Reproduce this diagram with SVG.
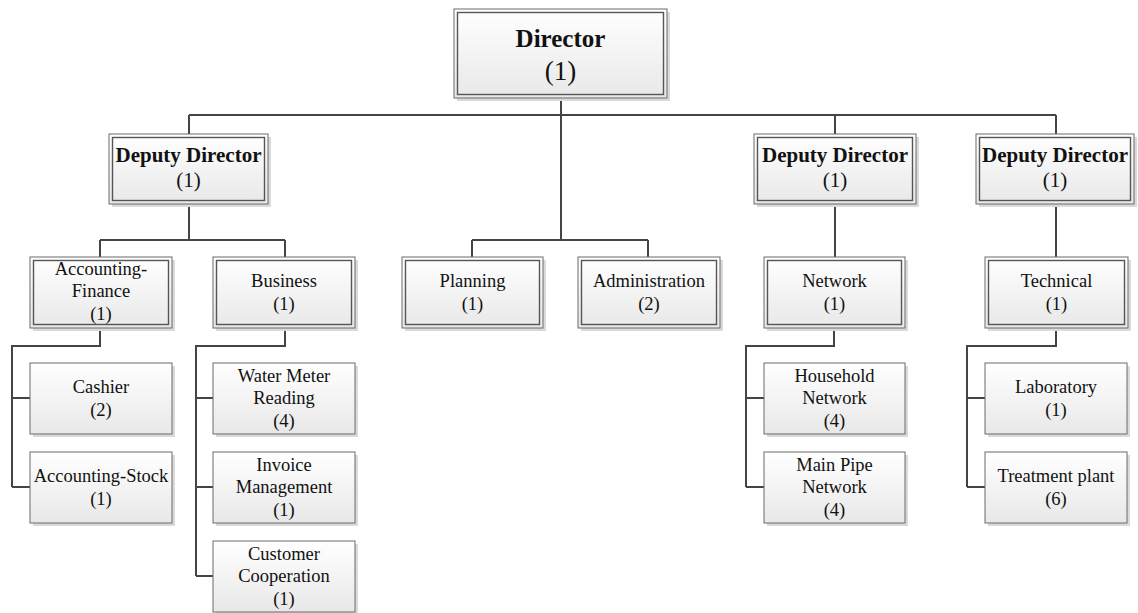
<svg xmlns="http://www.w3.org/2000/svg" width="1138" height="613" viewBox="0 0 1138 613">
<defs>
<linearGradient id="g" x1="0" y1="0" x2="0" y2="1">
<stop offset="0" stop-color="#ffffff"/>
<stop offset="1" stop-color="#e8e8e8"/>
</linearGradient>
<style>
.sh{fill:#dadada}
.bx{fill:url(#g);stroke:#6a6a6a;stroke-width:1}
.in{fill:none;stroke:#555;stroke-width:1.4}
.t{font-family:"Liberation Serif","Times New Roman",serif;font-size:18.5px;fill:#111;text-anchor:middle}
.b{font-weight:bold;font-size:21px}
.d{font-weight:bold;font-size:25px}
.dn{font-size:27px}
.n21{font-size:21px}
.c{fill:none;stroke:#444;stroke-width:2}
</style>
</defs>
<rect width="1138" height="613" fill="#fff"/>
<g id="connectors">
<path class="c" d="M561,98V240M189,115H1056M189,115V134M835,115V134M1056,115V134"/>
<path class="c" d="M189,204V240M100,240H285M100,240V257M285,240V257"/>
<path class="c" d="M472,240H648M472,240V257M648,240V257"/>
<path class="c" d="M835,204V257M1056,204V257"/>
<path class="c" d="M100,328V346H12V487M12,398H30M12,487H30"/>
<path class="c" d="M285,328V346H196V576M196,398H213M196,487H213M196,576H213"/>
<path class="c" d="M834,328V346H746V487M746,398H764M746,487H764"/>
<path class="c" d="M1056,328V346H967V487M967,398H985M967,487H985"/>
</g>
<g id="director">
<rect class="sh" x="457" y="12" width="213" height="89"/>
<rect class="bx" x="454" y="9" width="213" height="89"/>
<rect class="in" x="457.5" y="12.5" width="206" height="82"/>
<text class="t d" x="560.5" y="47">Director</text>
<text class="t dn" x="560.5" y="80">(1)</text>
</g>
<g id="deputy-1">
<rect class="sh" x="112" y="137" width="159" height="70"/>
<rect class="bx" x="109" y="134" width="159" height="70"/>
<rect class="in" x="112.5" y="137.5" width="152" height="63"/>
<text class="t b" x="188.5" y="162">Deputy Director</text>
<text class="t n21" x="188.5" y="187">(1)</text>
</g>
<g id="deputy-2">
<rect class="sh" x="757" y="137" width="162" height="70"/>
<rect class="bx" x="754" y="134" width="162" height="70"/>
<rect class="in" x="757.5" y="137.5" width="155" height="63"/>
<text class="t b" x="835" y="162">Deputy Director</text>
<text class="t n21" x="835" y="187">(1)</text>
</g>
<g id="deputy-3">
<rect class="sh" x="979" y="137" width="158" height="70"/>
<rect class="bx" x="976" y="134" width="158" height="70"/>
<rect class="in" x="979.5" y="137.5" width="151" height="63"/>
<text class="t b" x="1055" y="162">Deputy Director</text>
<text class="t n21" x="1055" y="187">(1)</text>
</g>
<g id="accounting-finance">
<rect class="sh" x="33" y="260" width="142" height="71"/>
<rect class="bx" x="30" y="257" width="142" height="71"/>
<rect class="in" x="33.5" y="260.5" width="135" height="64"/>
<text class="t" x="101" y="275">Accounting-</text>
<text class="t" x="101" y="297">Finance</text>
<text class="t" x="101" y="320">(1)</text>
</g>
<g id="business">
<rect class="sh" x="216" y="260" width="142" height="71"/>
<rect class="bx" x="213" y="257" width="142" height="71"/>
<rect class="in" x="216.5" y="260.5" width="135" height="64"/>
<text class="t" x="284" y="287">Business</text>
<text class="t" x="284" y="310">(1)</text>
</g>
<g id="planning">
<rect class="sh" x="405" y="260" width="141" height="71"/>
<rect class="bx" x="402" y="257" width="141" height="71"/>
<rect class="in" x="405.5" y="260.5" width="134" height="64"/>
<text class="t" x="472.5" y="287">Planning</text>
<text class="t" x="472.5" y="310">(1)</text>
</g>
<g id="administration">
<rect class="sh" x="581" y="260" width="142" height="71"/>
<rect class="bx" x="578" y="257" width="142" height="71"/>
<rect class="in" x="581.5" y="260.5" width="135" height="64"/>
<text class="t" x="649" y="287">Administration</text>
<text class="t" x="649" y="310">(2)</text>
</g>
<g id="network">
<rect class="sh" x="767" y="260" width="141" height="71"/>
<rect class="bx" x="764" y="257" width="141" height="71"/>
<rect class="in" x="767.5" y="260.5" width="134" height="64"/>
<text class="t" x="834.5" y="287">Network</text>
<text class="t" x="834.5" y="310">(1)</text>
</g>
<g id="technical">
<rect class="sh" x="988" y="260" width="143" height="71"/>
<rect class="bx" x="985" y="257" width="143" height="71"/>
<rect class="in" x="988.5" y="260.5" width="136" height="64"/>
<text class="t" x="1056.5" y="287">Technical</text>
<text class="t" x="1056.5" y="310">(1)</text>
</g>
<g id="cashier">
<rect class="sh" x="33" y="366" width="142" height="71"/>
<rect class="bx" x="30" y="363" width="142" height="71"/>
<text class="t" x="101" y="393">Cashier</text>
<text class="t" x="101" y="416">(2)</text>
</g>
<g id="accounting-stock">
<rect class="sh" x="33" y="455" width="142" height="71"/>
<rect class="bx" x="30" y="452" width="142" height="71"/>
<text class="t" x="101" y="482">Accounting-Stock</text>
<text class="t" x="101" y="505">(1)</text>
</g>
<g id="water-meter-reading">
<rect class="sh" x="216" y="366" width="142" height="71"/>
<rect class="bx" x="213" y="363" width="142" height="71"/>
<text class="t" x="284" y="382">Water Meter</text>
<text class="t" x="284" y="404">Reading</text>
<text class="t" x="284" y="427">(4)</text>
</g>
<g id="invoice-management">
<rect class="sh" x="216" y="455" width="142" height="71"/>
<rect class="bx" x="213" y="452" width="142" height="71"/>
<text class="t" x="284" y="471">Invoice</text>
<text class="t" x="284" y="493">Management</text>
<text class="t" x="284" y="516">(1)</text>
</g>
<g id="customer-cooperation">
<rect class="sh" x="216" y="544" width="142" height="71"/>
<rect class="bx" x="213" y="541" width="142" height="71"/>
<text class="t" x="284" y="560">Customer</text>
<text class="t" x="284" y="582">Cooperation</text>
<text class="t" x="284" y="605">(1)</text>
</g>
<g id="household-network">
<rect class="sh" x="767" y="366" width="141" height="71"/>
<rect class="bx" x="764" y="363" width="141" height="71"/>
<text class="t" x="834.5" y="382">Household</text>
<text class="t" x="834.5" y="404">Network</text>
<text class="t" x="834.5" y="427">(4)</text>
</g>
<g id="main-pipe-network">
<rect class="sh" x="767" y="455" width="141" height="71"/>
<rect class="bx" x="764" y="452" width="141" height="71"/>
<text class="t" x="834.5" y="471">Main Pipe</text>
<text class="t" x="834.5" y="493">Network</text>
<text class="t" x="834.5" y="516">(4)</text>
</g>
<g id="laboratory">
<rect class="sh" x="988" y="366" width="142" height="71"/>
<rect class="bx" x="985" y="363" width="142" height="71"/>
<text class="t" x="1056" y="393">Laboratory</text>
<text class="t" x="1056" y="416">(1)</text>
</g>
<g id="treatment-plant">
<rect class="sh" x="988" y="455" width="142" height="71"/>
<rect class="bx" x="985" y="452" width="142" height="71"/>
<text class="t" x="1056" y="482">Treatment plant</text>
<text class="t" x="1056" y="505">(6)</text>
</g>
</svg>
